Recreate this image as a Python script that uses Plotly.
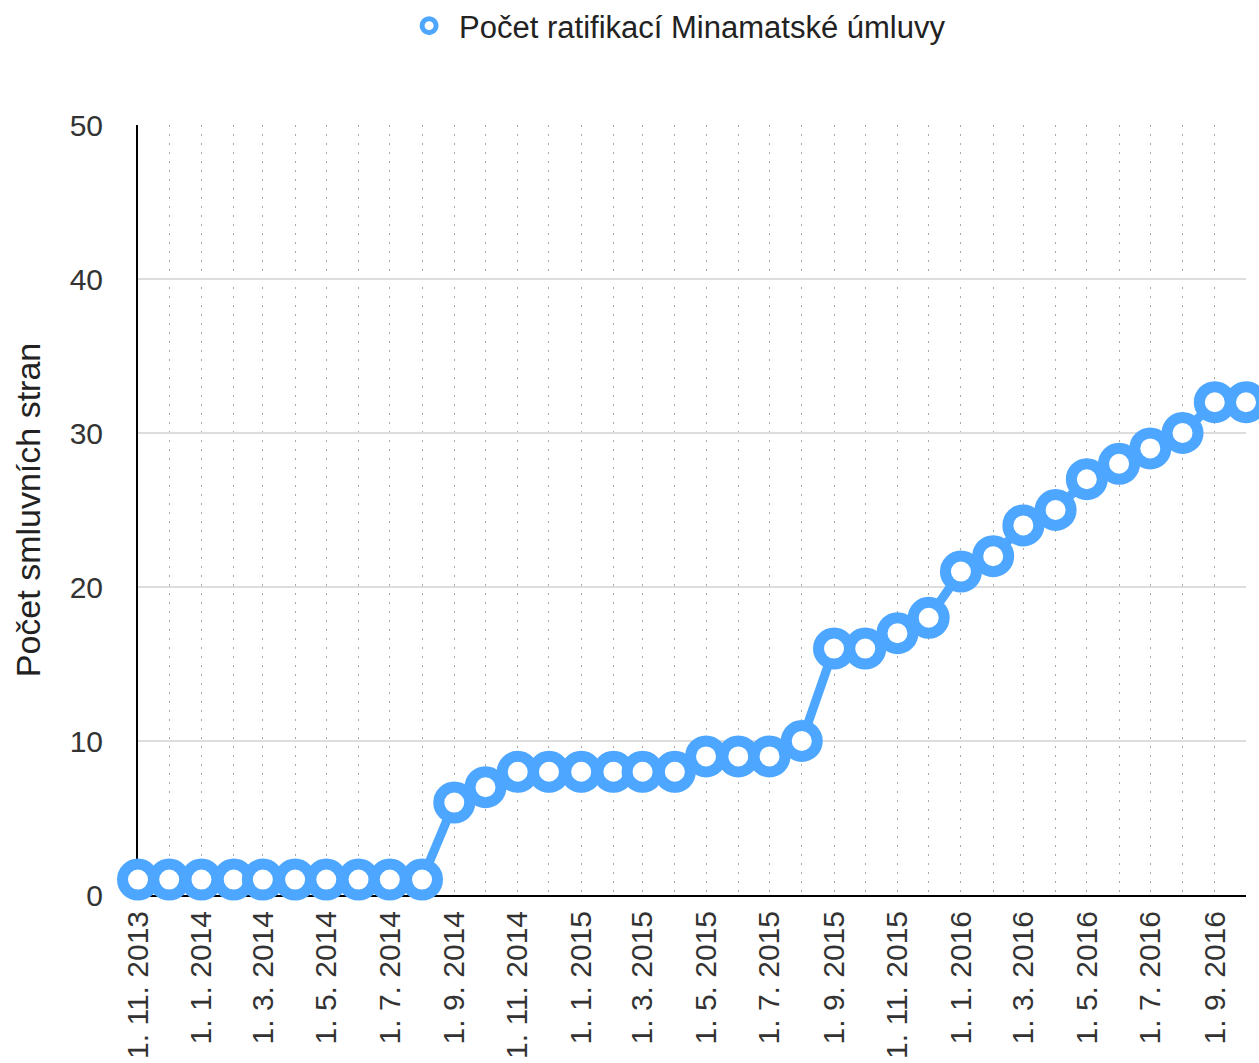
import plotly.graph_objects as go
import pandas as pd

months = list(pd.date_range("2013-11-01", "2016-10-01", freq="MS").strftime("%Y-%m-%d"))
ratifications = [1, 1, 1, 1, 1, 1, 1, 1, 1, 1,
                 6, 7, 8, 8, 8, 8, 8, 8, 9, 9, 9, 10,
                 16, 16, 17, 18, 21, 22, 24, 25, 27, 28, 29, 30, 32, 32]
tick_vals = months[::2]
tick_text = ["1. 11. 2013", "1. 1. 2014", "1. 3. 2014", "1. 5. 2014", "1. 7. 2014",
             "1. 9. 2014", "1. 11. 2014", "1. 1. 2015", "1. 3. 2015", "1. 5. 2015",
             "1. 7. 2015", "1. 9. 2015", "1. 11. 2015", "1. 1. 2016", "1. 3. 2016",
             "1. 5. 2016", "1. 7. 2016", "1. 9. 2016"]
series_name = "Počet ratifikací Minamatské úmluvy"
y_title = "Počet smluvních stran"

BLUE = "#4DA6FF"
FONT = "Liberation Sans, Arial, Helvetica, sans-serif"

fig = go.Figure()
fig.add_trace(go.Scatter(
    x=months, y=ratifications, mode="lines+markers",
    line=dict(color=BLUE, width=9),
    marker=dict(size=31, color="white", line=dict(color=BLUE, width=11)),
    cliponaxis=False, showlegend=False,
))
fig.add_trace(go.Scatter(
    x=[None], y=[None], mode="markers", name=series_name,
    marker=dict(size=14, color="white", line=dict(color=BLUE, width=5)),
))

fig.update_layout(
    width=1259, height=1063,
    margin=dict(l=138, r=13, t=125, b=168, autoexpand=False),
    paper_bgcolor="white", plot_bgcolor="white",
    font=dict(family=FONT, size=30, color="#333"),
    legend=dict(orientation="h", xref="container", yref="container",
                x=0.317, xanchor="left", y=1 - 26 / 1063, yanchor="middle",
                itemwidth=50,
                font=dict(size=31, color="#222"), bgcolor="rgba(0,0,0,0)"),
)
fig.update_xaxes(
    type="date", range=[months[0], months[-1]], automargin=False,
    tickmode="array", tickvals=tick_vals, ticktext=tick_text, tickangle=-90,
    ticks="", ticklabelstandoff=2,
    showgrid=True, gridcolor="#aaa", gridwidth=1, griddash="2px,7px",
    minor=dict(dtick="M1", tick0=months[0], showgrid=True, gridcolor="#aaa",
               gridwidth=1, griddash="2px,7px"),
    showline=True, linecolor="black", linewidth=2, layer="below traces",
    zeroline=False,
)
fig.update_yaxes(
    range=[0, 50], dtick=10, tick0=0, automargin=False,
    ticks="", ticklabelstandoff=27,
    showgrid=True, gridcolor="#ddd", gridwidth=1.5,
    showline=True, linecolor="black", linewidth=2, layer="below traces",
    zeroline=False,
    title=dict(text=y_title, standoff=19, font=dict(size=34, color="#222")),
)

fig.write_html("out.html", config={"displayModeBar": False},
               post_script="document.body.style.margin='0px';")
